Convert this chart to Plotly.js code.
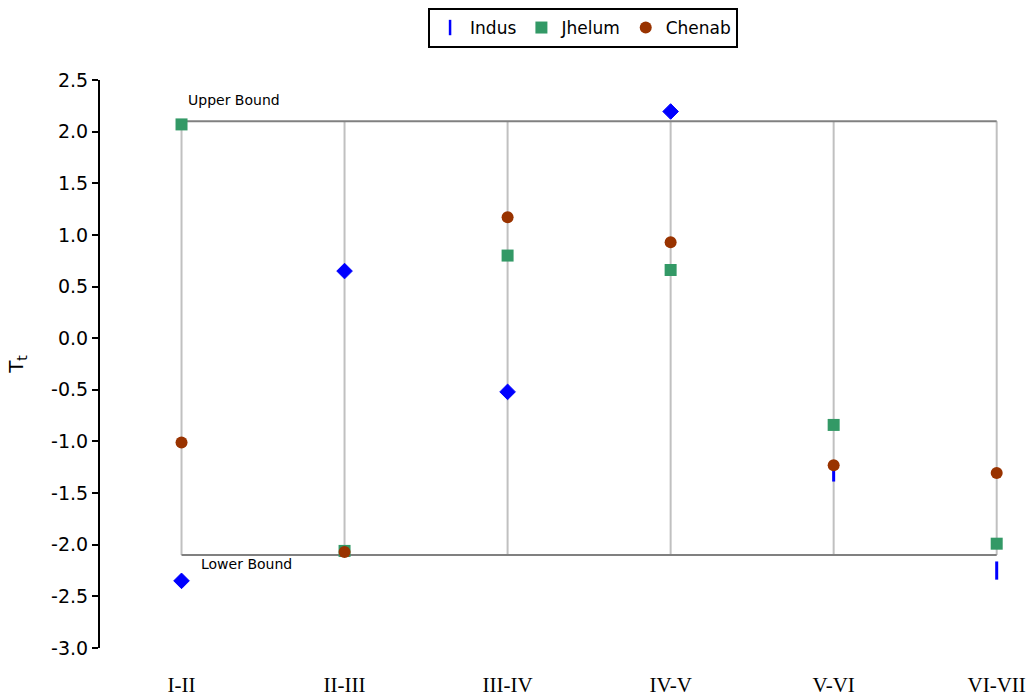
<!DOCTYPE html>
<html>
<head>
<meta charset="utf-8">
<script src="https://cdn.plot.ly/plotly-3.0.1.min.js"></script>
<style>html,body{margin:0;padding:0;background:#fff;}#chart{width:1036px;height:700px;}</style>
</head>
<body>
<div id="chart"></div>
<script>
const categories = ["I-II", "II-III", "III-IV", "IV-V", "V-VI", "VI-VII"];
const indus  = [-2.35, 0.65, -0.52, 2.195, -1.30, -2.25];
const jhelum = [2.07, -2.06, 0.80, 0.66, -0.84, -1.99];
const chenab = [-1.01, -2.07, 1.17, 0.93, -1.23, -1.305];
const indusSymbols = ["diamond", "diamond", "diamond", "diamond", "line-ns", "line-ns"];
const upperBound = 2.1;
const lowerBound = -2.1;
const yTicks = [2.5, 2.0, 1.5, 1.0, 0.5, 0.0, -0.5, -1.0, -1.5, -2.0, -2.5, -3.0];

const idx = categories.map((c, i) => i);
const indusSizes = indusSymbols.map(s => s === "diamond" ? 12 : 13);
const indusLineW = indusSymbols.map(s => s === "diamond" ? 1 : 3);

const sans = "'DejaVu Sans', Arial, sans-serif";

const traces = [
  {
    type: "scatter", mode: "markers", name: "Indus", x: [null], y: [null],
    marker: {symbol: "line-ns", size: 11, color: "#0000ff", opacity: 1, line: {color: "#0000ff", width: 2.5}},
    showlegend: true, hoverinfo: "skip"
  },
  {
    type: "scatter", mode: "markers", name: "Indus", x: idx, y: indus, showlegend: false,
    marker: {symbol: indusSymbols, size: indusSizes, color: "#0000ff", opacity: 1,
      line: {color: "#0000ff", width: indusLineW}}
  },
  {
    type: "scatter", mode: "markers", name: "Jhelum", x: idx, y: jhelum,
    marker: {symbol: "square", size: 12, color: "#339966", opacity: 1, line: {width: 0}}
  },
  {
    type: "scatter", mode: "markers", name: "Chenab", x: idx, y: chenab,
    marker: {symbol: "circle", size: 12, color: "#993300", opacity: 1, line: {width: 0}}
  }
];

const shapes = [];
idx.forEach(i => {
  shapes.push({type: "line", xref: "x", yref: "y", x0: i, x1: i, y0: lowerBound, y1: upperBound,
    line: {color: "#c0c0c0", width: 2}, layer: "below"});
});
shapes.push({type: "line", xref: "x", yref: "y", x0: 0, x1: idx.length - 1, y0: upperBound, y1: upperBound,
  line: {color: "#808080", width: 2}, layer: "below"});
shapes.push({type: "line", xref: "x", yref: "y", x0: 0, x1: idx.length - 1, y0: lowerBound, y1: lowerBound,
  line: {color: "#808080", width: 2}, layer: "below"});

const layout = {
  width: 1036, height: 700,
  paper_bgcolor: "#ffffff", plot_bgcolor: "#ffffff",
  margin: {l: 100, r: 23, t: 80, b: 52},
  font: {family: sans, color: "#000000"},
  showlegend: true,
  legend: {
    orientation: "h", xref: "container", yref: "container",
    x: 0.5628, xanchor: "center", y: 0.9886, yanchor: "top",
    bordercolor: "#000000", borderwidth: 2, bgcolor: "#ffffff",
    font: {size: 17, family: sans, color: "#000"},
    itemwidth: 20, tracegroupgap: 0
  },
  xaxis: {
    range: [-0.5, 5.1],
    tickmode: "array", tickvals: idx, ticktext: categories,
    showgrid: false, zeroline: false, showline: false, ticks: "",
    tickfont: {family: "'Liberation Serif', 'Times New Roman', serif", size: 21, color: "#000"},
    ticklabelstandoff: 22
  },
  yaxis: {
    range: [-3.0, 2.5],
    tickmode: "array", tickvals: yTicks, ticktext: yTicks.map(v => v.toFixed(1)),
    showgrid: false, zeroline: false,
    showline: true, linecolor: "#000000", linewidth: 2,
    ticks: "outside", ticklen: 6, tickwidth: 2, tickcolor: "#000000",
    tickfont: {size: 19, family: sans, color: "#000"},
    title: {text: "T<sub>t</sub>", font: {size: 20, family: sans, color: "#000"}, standoff: 22}
  },
  shapes: shapes,
  annotations: [
    {xref: "x", yref: "y", x: 0.03, y: upperBound + 0.21, text: "Upper Bound", showarrow: false,
      xanchor: "left", yanchor: "middle", font: {size: 14, family: sans, color: "#000"}},
    {xref: "x", yref: "y", x: 0.11, y: lowerBound - 0.085, text: "Lower Bound", showarrow: false,
      xanchor: "left", yanchor: "middle", font: {size: 14, family: sans, color: "#000"}}
  ]
};

Plotly.newPlot("chart", traces, layout, {displayModeBar: false, staticPlot: true});
</script>
</body>
</html>
